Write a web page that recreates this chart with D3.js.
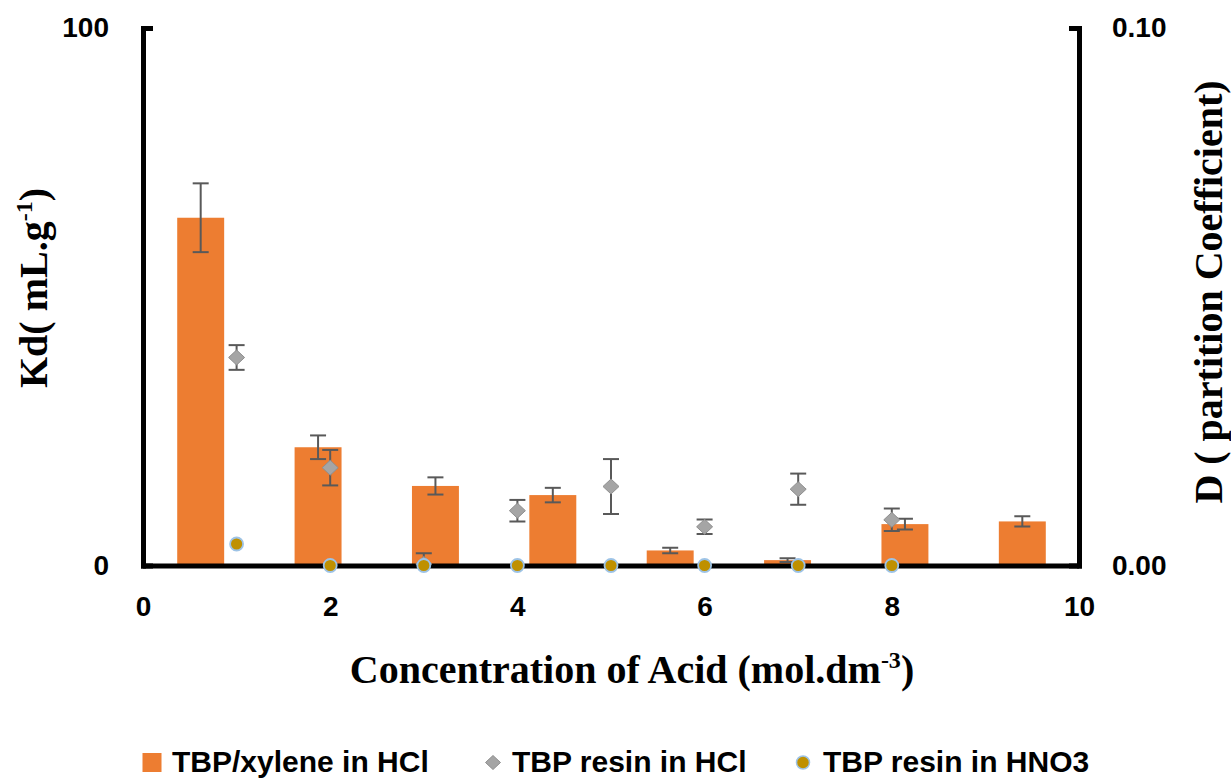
<!DOCTYPE html>
<html>
<head>
<meta charset="utf-8">
<script src="https://cdn.jsdelivr.net/npm/d3@7"></script>
<style>
  body { margin: 0; background: #fff; }
  svg { display: block; }
</style>
</head>
<body>
<svg id="chart" width="1231" height="779"></svg>
<script>
// ---- data ----
const barCategories = [1, 2, 3, 4, 5, 6, 7, 8];
const xyleneD       = [0.0647, 0.0220, 0.0148, 0.0131, 0.0028, 0.0010, 0.0077, 0.0082];
const xyleneDErr    = [0.0064, 0.0022, 0.0016, 0.00135, 0.0005, 0.00035, 0.0010, 0.00095];

const acidConc      = [1, 2, 3, 4, 5, 6, 7, 8];
const resinHClKd    = [38.7, 18.2, 0.3, 10.2, 14.7, 7.2, 14.2, 8.5];
const resinHClErr   = [2.3, 3.3, 2.0, 2.0, 5.1, 1.35, 2.9, 2.1];
const resinHNO3Kd   = [4.0, 0, 0, 0, 0, 0, 0, 0];

const xTicks  = [0, 2, 4, 6, 8, 10];
const kdTicks = [0, 100];
const dTicks  = [0, 0.10];
const seriesNames = ["TBP/xylene in HCl", "TBP resin in HCl", "TBP resin in HNO3"];

// ---- styles ----
const ORANGE = "#ed7d31";
const GREY_FILL = "#a5a5a5", GREY_STROKE = "#8f8f8f";
const GOLD = "#bf9000", GOLD_STROKE = "#9dc3e6";
const ERR = "#595959";
const SANS = "'Liberation Sans', Arial, sans-serif";
const SERIF = "'Liberation Serif', 'Times New Roman', serif";

const svg = d3.select("#chart");

// ---- scales ----
const x    = d3.scaleLinear([0, 10], [143, 1079]);
const band = d3.scaleBand(barCategories, [142, 1081]).paddingInner(0.6).paddingOuter(0.3);
const yKd  = d3.scaleLinear([0, 100], [565.5, 28]);
const yD   = d3.scaleLinear([0, 0.10], [565.5, 28]);

svg.append("clipPath").attr("id", "plot-clip")
  .append("rect").attr("x", 130).attr("y", 0).attr("width", 970).attr("height", 565.5);

// ---- bars (right axis, D) ----
const barData = barCategories.map((c, i) => ({ c, v: xyleneD[i], e: xyleneDErr[i] }));
svg.append("g").selectAll("rect").data(barData).join("rect")
  .attr("x", d => band(d.c))
  .attr("width", band.bandwidth())
  .attr("y", d => yD(d.v))
  .attr("height", d => yD(0) - yD(d.v))
  .attr("fill", ORANGE);

// ---- axes ----
function styleAxis(g) {
  g.select(".domain").attr("stroke", "#000").attr("stroke-width", 5).attr("stroke-linecap", "square");
  g.selectAll(".tick line").attr("stroke", "#000").attr("stroke-width", 5);
  g.selectAll(".tick text").attr("fill", "#000")
    .style("font-family", SANS).style("font-weight", "bold").style("font-size", "28px");
}

svg.append("g").attr("transform", `translate(0,${yKd(0)})`)
  .call(d3.axisBottom(x).tickValues(xTicks).tickFormat(d3.format("d")).tickSize(0).tickPadding(30.5))
  .call(styleAxis);

svg.append("g").attr("transform", `translate(${x(0)},0)`)
  .call(d3.axisLeft(yKd).tickValues(kdTicks).tickFormat(d3.format("d")).tickSizeInner(-10).tickSizeOuter(0).tickPadding(34))
  .call(styleAxis);

svg.append("g").attr("transform", `translate(${x(10)},0)`)
  .call(d3.axisRight(yD).tickValues(dTicks).tickFormat(d3.format(".2f")).tickSizeInner(-10).tickSizeOuter(0).tickPadding(33))
  .call(styleAxis);

// ---- error bars ----
const CAP = 8;
function errorBars(g, data) {
  const eb = g.selectAll("g").data(data).join("g").attr("stroke", ERR).attr("stroke-width", 2);
  eb.append("line").attr("x1", d => d.cx).attr("x2", d => d.cx).attr("y1", d => d.y0).attr("y2", d => d.y1);
  eb.append("line").attr("x1", d => d.cx - CAP).attr("x2", d => d.cx + CAP).attr("y1", d => d.y0).attr("y2", d => d.y0);
  eb.append("line").attr("x1", d => d.cx - CAP).attr("x2", d => d.cx + CAP).attr("y1", d => d.y1).attr("y2", d => d.y1);
}
const errLayer = svg.append("g").attr("clip-path", "url(#plot-clip)");
errLayer.append("g").call(errorBars, barData.map(d => ({
  cx: band(d.c) + band.bandwidth() / 2, y0: yD(d.v - d.e), y1: yD(d.v + d.e)
})));
errLayer.append("g").call(errorBars, acidConc.map((c, i) => ({
  cx: x(c), y0: yKd(resinHClKd[i] - resinHClErr[i]), y1: yKd(resinHClKd[i] + resinHClErr[i])
})));

// ---- TBP resin in HCl (diamonds, left axis, Kd) ----
const diamond = (w, h) => `M0,${-h}L${w},0L0,${h}L${-w},0Z`;
svg.append("g").selectAll("path").data(acidConc.map((c, i) => ({ c, v: resinHClKd[i] }))).join("path")
  .attr("transform", d => `translate(${x(d.c)},${yKd(d.v)})`)
  .attr("d", diamond(8, 7.5))
  .attr("fill", GREY_FILL).attr("stroke", GREY_STROKE).attr("stroke-width", 1);

// ---- TBP resin in HNO3 (circles, left axis, Kd) ----
svg.append("g").selectAll("circle").data(acidConc.map((c, i) => ({ c, v: resinHNO3Kd[i] }))).join("circle")
  .attr("cx", d => x(d.c)).attr("cy", d => yKd(d.v)).attr("r", 6.5)
  .attr("fill", GOLD).attr("stroke", GOLD_STROKE).attr("stroke-width", 1.8);

// ---- axis titles ----
const xTitle = svg.append("text")
  .attr("x", 632).attr("y", 683).attr("text-anchor", "middle")
  .style("font-family", SERIF).style("font-weight", "bold").style("font-size", "40px");
xTitle.append("tspan").text("Concentration of Acid (mol.dm");
xTitle.append("tspan").attr("dy", -15).style("font-size", "24px").text("-3");
xTitle.append("tspan").attr("dy", 15).text(")");

const yTitle = svg.append("text")
  .attr("transform", "translate(47,288) rotate(-90)").attr("text-anchor", "middle")
  .style("font-family", SERIF).style("font-weight", "bold").style("font-size", "40px");
yTitle.append("tspan").text("Kd( mL.g");
yTitle.append("tspan").attr("dy", -15).style("font-size", "24px").text("-1");
yTitle.append("tspan").attr("dy", 15).text(")");

svg.append("text")
  .attr("transform", "translate(1222,292) rotate(-90)").attr("text-anchor", "middle")
  .style("font-family", SERIF).style("font-weight", "bold").style("font-size", "40px")
  .text("D ( partition Coefficient)");

// ---- legend ----
const legend = svg.append("g")
  .style("font-family", SANS).style("font-weight", "bold").style("font-size", "30px");
const legendItems = [
  { name: seriesNames[0], mx: 152, tx: 172, kind: "rect" },
  { name: seriesNames[1], mx: 493, tx: 512, kind: "diamond" },
  { name: seriesNames[2], mx: 803, tx: 823, kind: "circle" }
];
const LY = 762.5;
legendItems.forEach(it => {
  if (it.kind === "rect") {
    legend.append("rect").attr("x", it.mx - 9.5).attr("y", LY - 9.5).attr("width", 19).attr("height", 19).attr("fill", ORANGE);
  } else if (it.kind === "diamond") {
    legend.append("path").attr("transform", `translate(${it.mx},${LY})`).attr("d", diamond(7.5, 7))
      .attr("fill", GREY_FILL).attr("stroke", GREY_STROKE);
  } else {
    legend.append("circle").attr("cx", it.mx).attr("cy", LY).attr("r", 6.5)
      .attr("fill", GOLD).attr("stroke", GOLD_STROKE).attr("stroke-width", 1.5);
  }
  legend.append("text").attr("x", it.tx).attr("y", 772).attr("fill", "#000").text(it.name);
});
</script>
</body>
</html>
